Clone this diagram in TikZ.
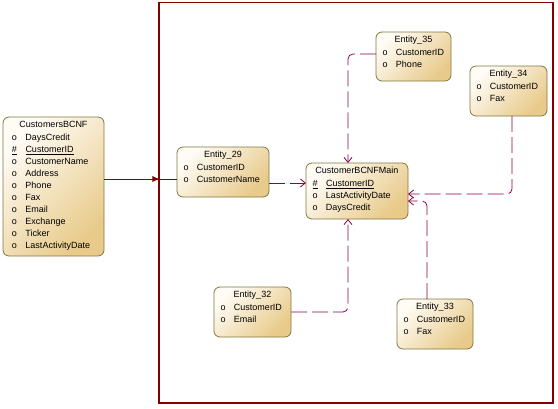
\documentclass[tikz,border=0pt]{standalone}
\usepackage{fontspec}
\setmainfont{Liberation Sans}
\usetikzlibrary{arrows.meta,decorations.markings}

\definecolor{boxedge}{RGB}{128,120,64}
\definecolor{boxtan}{RGB}{232,202,138}
\definecolor{boxlight}{RGB}{255,252,246}
\definecolor{relcol}{RGB}{140,0,70}
\definecolor{framecol}{RGB}{128,0,0}

\newcommand{\etab}[3]{\begin{tabular}{@{}p{13.5pt}@{}p{#1}@{}}\multicolumn{2}{@{}c@{}}{#2}\\[1.5pt]#3\end{tabular}}

\tikzset{
  entity/.style={draw=boxedge, line width=0.8pt, rounded corners=6pt,
    top color=boxlight, bottom color=boxtan, shading angle=45,
    anchor=north west, inner xsep=6.5pt, inner ysep=2pt, outer sep=0pt,
    font=\fontsize{9}{12}\selectfont},
  rel/.style={draw=relcol, line width=0.8pt, dash pattern=on 16pt off 5pt,
    rounded corners=5pt, -{Straight Barb[length=5pt,width=8pt]}},
  fwd/.style={draw=framecol, line width=0.8pt,
    decoration={markings, mark=at position 0.76 with {\arrow{Latex[length=7pt,width=6pt]}}},
    postaction={decorate}}
}

\begin{document}
\begin{tikzpicture}[x=1pt,y=-1pt]

\useasboundingbox (0,0) rectangle (558,408);

\draw[framecol, line width=1.2pt] (159,2.5) rectangle (553,403);

\node[entity, inner xsep=9pt] (cb) at (3,117) {\etab{69.5pt}{CustomersBCNF}{o & DaysCredit\\ \underline{\#} & \underline{CustomerID}\\ o & CustomerName\\ o & Address\\ o & Phone\\ o & Fax\\ o & Email\\ o & Exchange\\ o & Ticker\\ o & LastActivityDate\\[1.5pt]}};

\node[entity] (e29) at (177,147) {\etab{65.5pt}{Entity\_29}{o & CustomerID\\ o & CustomerName\\[8.5pt]}};
\node[entity] (main) at (306,163) {\etab{75.5pt}{CustomerBCNFMain}{\underline{\#} & \underline{CustomerID}\\ o & LastActivityDate\\ o & DaysCredit\\[2.5pt]}};
\node[entity] (e35) at (376,32) {\etab{48.5pt}{Entity\_35}{o & CustomerID\\ o & Phone\\[7.5pt]}};
\node[entity] (e34) at (470,66) {\etab{50.5pt}{Entity\_34}{o & CustomerID\\ o & Fax\\[8.5pt]}};
\node[entity] (e32) at (214,287) {\etab{50.5pt}{Entity\_32}{o & CustomerID\\ o & Email\\[8.5pt]}};
\node[entity] (e33) at (397,299) {\etab{49.5pt}{Entity\_33}{o & CustomerID\\ o & Fax\\[8.5pt]}};

\draw[fwd] ([yshift=7.5pt]cb.east) -- ([yshift=7.5pt]cb.east -| e29.west);

\draw[rel] ([yshift=-11pt]e29.east) -- ([yshift=-11pt]e29.east -| main.west);
\draw[rel] ([yshift=2.5pt]e35.west) -| ([xshift=-9pt]main.north);
\draw[rel] (e32.east) -| ([xshift=-9pt]main.south);
\draw[rel] ([xshift=3.5pt]e34.south) |- ([yshift=-3pt]main.east);
\draw[rel] ([xshift=-8pt]e33.north) |- ([yshift=-10pt]main.east);

\end{tikzpicture}
\end{document}
